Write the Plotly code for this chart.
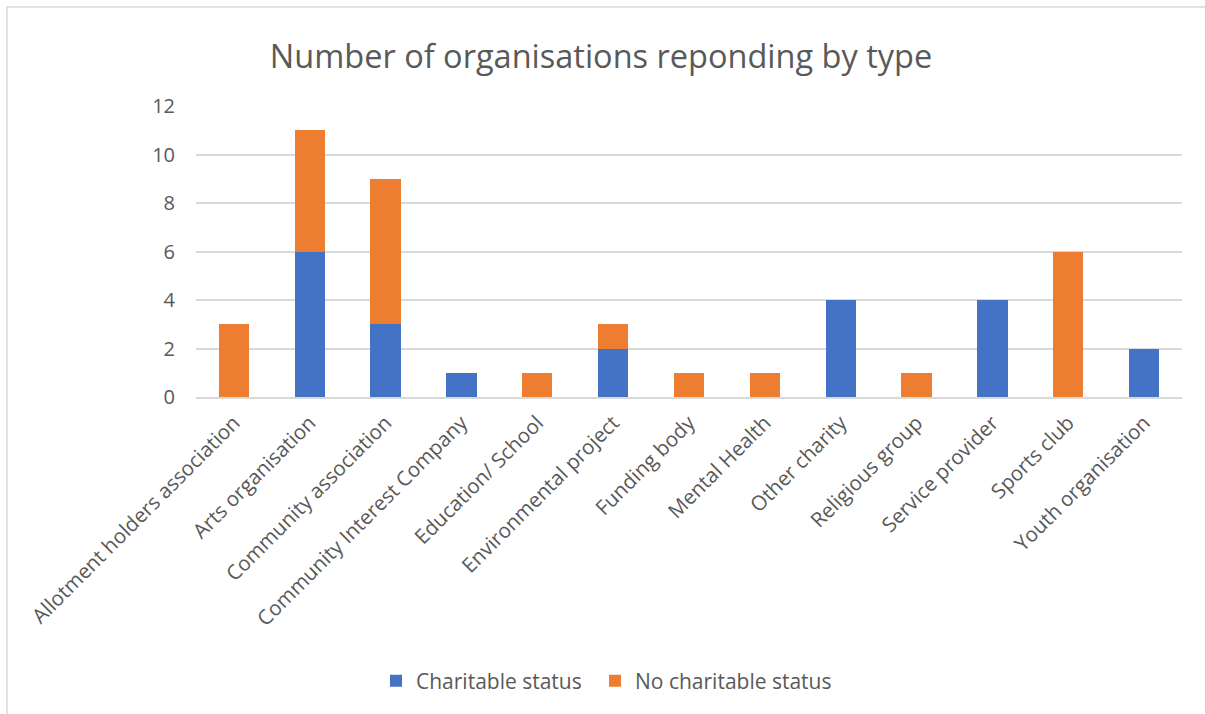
import plotly.graph_objects as go

categories = [
    "Allotment holders association", "Arts organisation", "Community association",
    "Community Interest Company", "Education/ School", "Environmental project",
    "Funding body", "Mental Health", "Other charity", "Religious group",
    "Service provider", "Sports club", "Youth organisation",
]
charitable = [0, 6, 3, 1, 0, 2, 0, 0, 4, 0, 4, 0, 2]
no_charitable = [3, 5, 6, 0, 1, 1, 1, 1, 0, 1, 0, 6, 0]
y_ticks = [0, 2, 4, 6, 8, 10, 12]

BLUE = "#4472C4"
ORANGE = "#ED7D31"
TEXT = "#595959"
FONT = "Open Sans"

fig = go.Figure()
fig.add_trace(go.Bar(x=categories, y=charitable, name="Charitable status",
                     marker=dict(color=BLUE, line=dict(width=0)),
                     legend="legend"))
fig.add_trace(go.Bar(x=categories, y=no_charitable, name="No charitable status",
                     marker=dict(color=ORANGE, line=dict(width=0)),
                     legend="legend2"))

legend_style = dict(orientation="h", xref="container", xanchor="left",
                    y=(714 - 681) / 714, yref="container", yanchor="middle",
                    font=dict(size=21, color=TEXT), itemwidth=30)

fig.update_layout(
    barmode="stack",
    bargap=0.6,
    width=1205, height=714,
    margin=dict(l=196, r=23, t=106, b=317),
    paper_bgcolor="white", plot_bgcolor="white",
    font=dict(family=FONT, color=TEXT),
    title=dict(text="Number of organisations reponding by type",
               x=601 / 1205, xanchor="center", xref="container",
               y=1 - 57 / 714, yref="container", yanchor="middle",
               font=dict(size=32.5, color=TEXT, family=FONT)),
    legend=dict(x=376 / 1205, **legend_style),
    legend2=dict(x=595 / 1205, **legend_style),
    showlegend=True,
)
fig.update_yaxes(range=[0, 12], tickvals=y_ticks, showgrid=True,
                 gridcolor="#D9D9D9", gridwidth=1.5, zeroline=False,
                 showline=False, ticks="", tickfont=dict(size=20, color=TEXT),
                 ticklabelstandoff=20)
fig.update_xaxes(showline=True, linecolor="#D9D9D9", linewidth=1.5,
                 tickangle=-45, ticks="", tickfont=dict(size=20.5, color=TEXT),
                 ticklabelstandoff=4)

# outer chart border
fig.add_shape(type="rect", xref="paper", yref="paper",
              x0=-189 / 986, x1=1.1, y0=-1.2, y1=(714 - 7 - 317) / 291,
              line=dict(color="#D9D9D9", width=1.5), layer="below")

fig.write_html("out.html")
